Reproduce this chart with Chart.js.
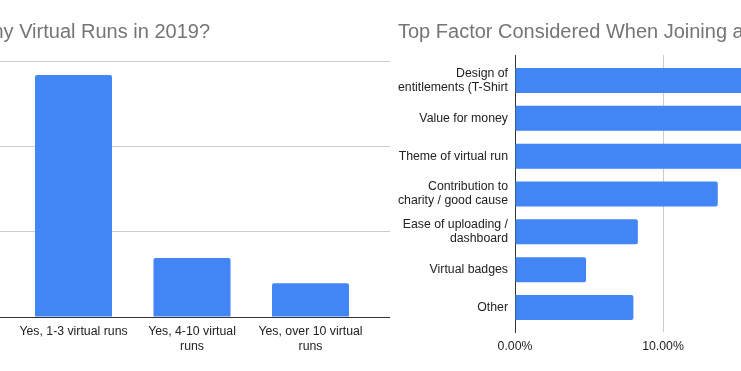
<!DOCTYPE html>
<html><head><meta charset="utf-8">
<script src="https://cdn.jsdelivr.net/npm/chart.js@4/dist/chart.umd.min.js"></script>
<style>
html,body{margin:0;padding:0;background:#fff;}
#wrap{position:relative;width:741px;height:371px;overflow:hidden;background:#fff;font-family:"Liberation Sans",Arial,sans-serif;}
.title{position:absolute;top:21px;font-size:20px;line-height:20px;color:#757575;white-space:nowrap;}
#t1{right:531px;}
#t2{left:398px;}
#c1{position:absolute;left:0;top:0;}
#c2{position:absolute;left:380px;top:0;}
</style></head><body>
<div id="wrap">
<canvas id="c1" width="390" height="371"></canvas>
<canvas id="c2" width="620" height="371"></canvas>
<div class="title" id="t1">Did You Participate in Any Virtual Runs in 2019?</div>
<div class="title" id="t2">Top Factor Considered When Joining a Virtual Run</div>
</div>
<script>
const runCategories = [["Yes, 1-3 virtual runs"], ["Yes, 4-10 virtual", "runs"], ["Yes, over 10 virtual", "runs"]];
const runValues = [56.7, 13.8, 7.9];
const runTicks = [0, 20, 40, 60];

const factorCategories = [["Design of", "entitlements (T-Shirt"], ["Value for money"], ["Theme of virtual run"], ["Contribution to", "charity / good cause"], ["Ease of uploading /", "dashboard"], ["Virtual badges"], ["Other"]];
const factorValues = [24.0, 21.6, 19.6, 13.7, 8.3, 4.8, 8.0];
const factorTicks = [0, 10, 20, 30];

const FONT = {family: "'Liberation Sans', Arial, sans-serif", size: 12.3, lineHeight: 1.15};
const BAR = '#4285F4';

new Chart(document.getElementById('c1'), {
  type: 'bar',
  data: {datasets: [{
    data: runValues.map((v, i) => ({x: i, y: v})),
    backgroundColor: BAR, borderRadius: 2, borderSkipped: 'start',
    categoryPercentage: 1, barPercentage: 0.65
  }]},
  options: {
    responsive: false, animation: false, events: [],
    layout: {padding: {top: 61, left: 0, right: 0, bottom: 0}},
    plugins: {legend: {display: false}, tooltip: {enabled: false}},
    scales: {
      x: {
        type: 'linear', offset: false, min: -0.6203, max: 2.6709,
        afterBuildTicks: s => { s.ticks = runCategories.map((c, i) => ({value: i})); },
        afterFit: s => { s.height = 54; },
        grid: {display: false, drawTicks: false, offset: false},
        border: {display: true, color: '#333', width: 1},
        ticks: {autoSkip: false, maxRotation: 0, minRotation: 0, padding: 8, color: '#222', font: FONT,
          callback: v => runCategories[v]}
      },
      y: {
        min: 0, max: 60,
        afterBuildTicks: s => { s.ticks = runTicks.map(v => ({value: v})); },
        afterFit: s => { s.width = 0; },
        ticks: {display: false},
        grid: {color: '#cccccc', drawTicks: false},
        border: {display: false}
      }
    }
  }
});

new Chart(document.getElementById('c2'), {
  type: 'bar',
  data: {datasets: [{
    data: factorValues.map((v, i) => ({x: v, y: i})),
    backgroundColor: BAR, borderRadius: 2, borderSkipped: 'start',
    categoryPercentage: 1, barPercentage: 0.66
  }]},
  options: {
    indexAxis: 'y', responsive: false, animation: false, events: [],
    layout: {padding: {top: 55, left: 0, right: 41, bottom: 0}},
    plugins: {legend: {display: false}, tooltip: {enabled: false}},
    scales: {
      x: {
        type: 'linear', position: 'bottom', min: 0, max: 30,
        afterBuildTicks: s => { s.ticks = factorTicks.map(v => ({value: v})); },
        afterFit: s => { s.height = 39; },
        grid: {color: c => (c.tick && c.tick.value === 0) ? 'rgba(0,0,0,0)' : '#cccccc', drawTicks: false},
        border: {display: false},
        ticks: {maxRotation: 0, padding: 8, color: '#222', font: FONT, callback: v => v.toFixed(2) + '%'}
      },
      y: {
        type: 'linear', offset: false, reverse: true, min: -0.674, max: 6.648,
        afterBuildTicks: s => { s.ticks = factorCategories.map((c, i) => ({value: i})); },
        afterFit: s => { s.width = 135; },
        grid: {display: false, drawTicks: false, offset: false},
        border: {display: true, color: '#333', width: 1},
        ticks: {autoSkip: false, padding: 7, color: '#222', font: FONT, callback: v => factorCategories[v]}
      }
    }
  }
});
</script>
</body></html>
